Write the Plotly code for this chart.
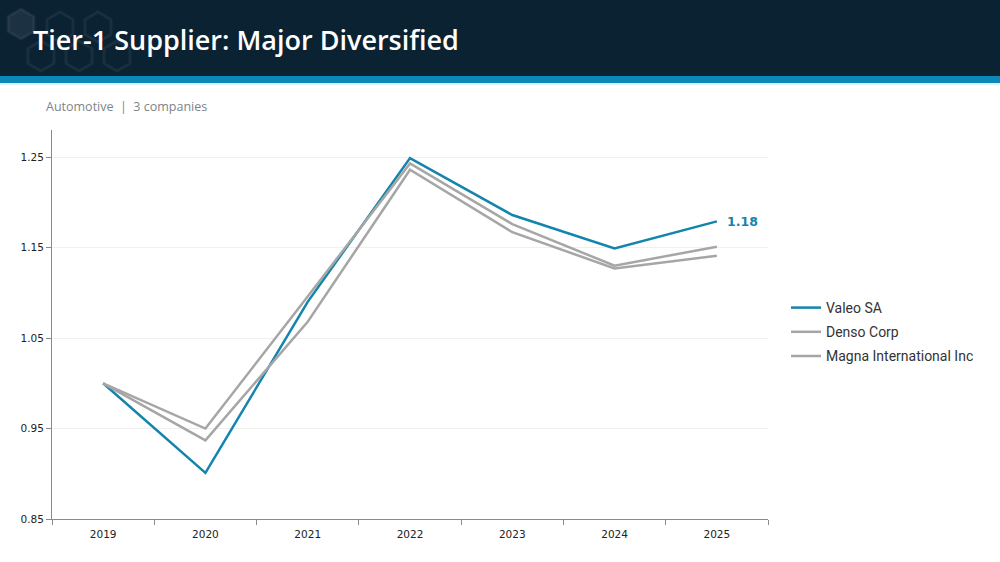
import plotly.graph_objects as go
import math

years = ["2019", "2020", "2021", "2022", "2023", "2024", "2025"]
valeo = [1.0, 0.901, 1.090, 1.249, 1.186, 1.149, 1.179]
denso = [1.0, 0.950, 1.096, 1.243, 1.176, 1.130, 1.151]
magna = [1.0, 0.937, 1.068, 1.236, 1.167, 1.127, 1.141]
y_ticks = [0.85, 0.95, 1.05, 1.15, 1.25]
last_label = "1.18"

BLUE = "#1384ab"
GRAY = "#a6a6a6"

W, H = 1000, 562
L, R, T, B = 52, 232, 130, 43
PW, PH = W - L - R, H - T - B

def px(x):
    return (x - L) / PW

def py(y):
    return (H - B - y) / PH

fig = go.Figure()
fig.add_trace(go.Scatter(x=years, y=valeo, name="Valeo SA", mode="lines",
                         line=dict(color=BLUE, width=2.5)))
fig.add_trace(go.Scatter(x=years, y=denso, name="Denso Corp", mode="lines",
                         line=dict(color=GRAY, width=2.5)))
fig.add_trace(go.Scatter(x=years, y=magna, name="Magna International Inc", mode="lines",
                         line=dict(color=GRAY, width=2.5)))

shapes = [
    dict(type="rect", xref="paper", yref="paper", x0=px(0), x1=px(W), y0=py(76), y1=py(0),
         fillcolor="#0b2233", line_width=0, layer="below"),
    dict(type="rect", xref="paper", yref="paper", x0=px(0), x1=px(W), y0=py(83), y1=py(76),
         fillcolor="#0b88b8", line_width=0, layer="below"),
    dict(type="rect", xref="paper", yref="paper", x0=px(0), x1=px(W), y0=py(85), y1=py(83),
         fillcolor="#d6f1f8", line_width=0, layer="below"),
]

def hexagon(cx, cy, r):
    pts = []
    for k in range(6):
        a = math.radians(60 * k + 30)
        pts.append((px(cx + r * math.cos(a)), py(cy + r * math.sin(a))))
    return "M " + " L ".join(f"{x:.5f},{y:.5f}" for x, y in pts) + " Z"

hexes = [(21, 24, 15, True), (60, 27, 15, False), (41, 56, 15, False), (79, 56, 15, False),
         (98, 27, 15, False), (117, 56, 15, False)]
for cx, cy, r, filled in hexes:
    shapes.append(dict(type="path", xref="paper", yref="paper", path=hexagon(cx, cy, r),
                       line=dict(color="rgba(255,255,255,0.06)", width=3),
                       fillcolor="rgba(255,255,255,0.07)" if filled else "rgba(0,0,0,0)",
                       layer="below"))

annotations = [
    dict(xref="paper", yref="paper", x=px(31), y=py(40), xanchor="left", yanchor="middle",
         text="Tier-1 Supplier: Major Diversified", showarrow=False,
         font=dict(family="Open Sans", size=27, color="white", weight=600)),
    dict(xref="paper", yref="paper", x=px(44), y=py(106), xanchor="left", yanchor="middle",
         text="Automotive  |  3 companies", showarrow=False,
         font=dict(family="Open Sans", size=12.5, color="#7d848a")),
    dict(x=len(years) - 1, y=valeo[-1], xanchor="left", yanchor="middle", xshift=8,
         text=f"<b>{last_label}</b>", showarrow=False,
         font=dict(family="DejaVu Sans", size=12.5, color=BLUE)),
]

fig.update_layout(
    width=W, height=H,
    margin=dict(l=L, r=R, t=T, b=B),
    paper_bgcolor="white", plot_bgcolor="white",
    showlegend=True,
    legend=dict(x=px(786), y=py(292), xanchor="left", yanchor="top",
                font=dict(family="Roboto", size=14, color="#333333"),
                bgcolor="rgba(0,0,0,0)", tracegroupgap=3, itemwidth=30),
    shapes=shapes,
    annotations=annotations,
    xaxis=dict(type="category", showline=True, linecolor="#8a8a8a", linewidth=1,
               ticks="outside", tickson="boundaries", ticklen=5, tickcolor="#8a8a8a",
               showgrid=False, zeroline=False, ticklabelstandoff=5,
               tickfont=dict(family="DejaVu Sans", size=10.5, color="#222"),
               range=[-0.5, 6.5]),
    yaxis=dict(range=[0.85, 1.28], tickvals=y_ticks, ticktext=[f"{v:.2f}" for v in y_ticks],
               showline=True, linecolor="#8a8a8a", linewidth=1,
               ticks="outside", ticklen=5, tickcolor="#8a8a8a",
               showgrid=True, gridcolor="#f0f0f0", gridwidth=1, zeroline=False,
               tickfont=dict(family="DejaVu Sans", size=10.5, color="#222")),
)
for i, tr in enumerate(fig.data):
    tr.legendgroup = f"g{i}"

fig.write_html("out.html")
